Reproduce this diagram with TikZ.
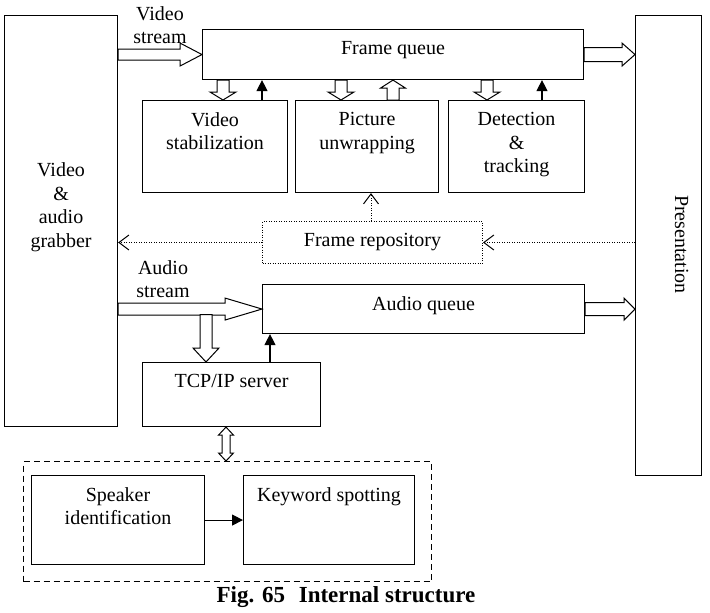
\documentclass[tikz,border=0pt]{standalone}
\usepackage{fontspec}
\setmainfont{Liberation Serif}
\usetikzlibrary{arrows.meta,positioning,calc}

\tikzset{
  box/.style={draw, line width=1.1pt, anchor=north west, inner sep=0pt},
  lbl/.style={anchor=north, align=center, yshift=-9pt},
  hollow/.style={draw, line width=1pt, fill=white, line join=miter},
  solidtip/.style={line width=1.1pt, -{Triangle[length=11pt,width=11pt]}},
  dottip/.style={line width=1pt, dash pattern=on 1pt off 1.5pt, -{Straight Barb[length=10pt,width=15pt]}},
}

% hollow block arrow: from, to, shaft half width, head half width, head length
\newcommand{\hollowarrow}[5]{%
  \path[hollow] let \p1=(#1), \p2=(#2), \n1={veclen(\x2-\x1,\y2-\y1)}, \n2={atan2(\y2-\y1,\x2-\x1)} in
    [shift={(\p1)}, rotate=\n2] (0pt,#3) -- (\n1-#5,#3) -- (\n1-#5,#4) -- (\n1,0pt)
    -- (\n1-#5,-#4) -- (\n1-#5,-#3) -- (0pt,-#3) -- cycle;}
% same with a head at both ends
\newcommand{\hollowboth}[5]{%
  \path[hollow] let \p1=(#1), \p2=(#2), \n1={veclen(\x2-\x1,\y2-\y1)}, \n2={atan2(\y2-\y1,\x2-\x1)} in
    [shift={(\p1)}, rotate=\n2] (0pt,0pt) -- (#5,#4) -- (#5,#3) -- (\n1-#5,#3) -- (\n1-#5,#4) -- (\n1,0pt)
    -- (\n1-#5,-#4) -- (\n1-#5,-#3) -- (#5,-#3) -- (#5,-#4) -- cycle;}

\begin{document}
\begin{tikzpicture}[x=1pt, y=-1pt, font=\fontsize{20}{23.5}\selectfont]
\useasboundingbox (0,0) rectangle (710,613);

% blocks
\node[box, minimum width=113pt, minimum height=411pt,
  label={[align=center, yshift=14pt]center:Video\\\&\\audio\\grabber}] (grabber) at (4,15) {};
\node[box, minimum width=381pt, minimum height=50pt, label={[lbl]north:Frame queue}] (fq) at (202,29) {};
\node[box, minimum width=145pt, minimum height=92pt, label={[lbl]north:Video\\stabilization}] (vs) at (142,100) {};
\node[box, minimum width=143pt, minimum height=92pt, label={[lbl]north:Picture\\unwrapping}] (pu) at (295,100) {};
\node[box, minimum width=136pt, minimum height=92pt, label={[lbl]north:Detection\\\&\\tracking}] (dt) at (448,100) {};
\node[box, minimum width=66pt, minimum height=460pt] (pres) at (635,15) {};
\node[rotate=-90] (prestext) at ([xshift=13pt,yshift=1pt]pres.center) {Presentation};
\node[box, line width=1pt, dash pattern=on 1pt off 1.5pt, minimum width=220pt, minimum height=42pt] (frep) at (262,221) {};
\node (freptext) at (frep.center) {Frame repository};
\node[box, minimum width=322pt, minimum height=49pt, label={[lbl]north:Audio queue}] (aq) at (262,284) {};
\node[box, minimum width=178pt, minimum height=64pt, label={[lbl]north:TCP/IP server}] (tcp) at (142,362) {};
\node[box, line width=1pt, dash pattern=on 6pt off 4pt, minimum width=408pt, minimum height=120pt] (speech) at (23,461) {};
\node[box, minimum width=173pt, minimum height=89pt, label={[lbl]north:Speaker\\identification}] (spk) at (31,475) {};
\node[box, minimum width=171pt, minimum height=89pt, label={[lbl]north:Keyword spotting}] (kw) at (243,475) {};

% stream labels
\node[align=center] (vstream) at (160,25) {Video\\stream};
\node[align=center] (astream) at (163,279) {Audio\\stream};

% block arrows
\hollowarrow{grabber.east |- fq.west}{fq.west}{5.5pt}{11.5pt}{22pt}
\hollowarrow{fq.east}{pres.west |- fq.east}{7pt}{11.5pt}{13pt}
\hollowarrow{fq.south -| 223,0}{vs.north -| 223,0}{6pt}{13pt}{8pt}
\hollowarrow{fq.south -| 341,0}{pu.north -| 341,0}{6pt}{13pt}{8pt}
\hollowarrow{pu.north -| 393,0}{fq.south -| 393,0}{6pt}{12.5pt}{8pt}
\hollowarrow{fq.south -| 487,0}{dt.north -| 487,0}{6pt}{13pt}{8pt}
\hollowarrow{grabber.east |- aq.west}{aq.west}{6pt}{11pt}{37pt}
\hollowarrow{aq.east}{pres.west |- aq.east}{6.5pt}{11pt}{11pt}
\coordinate (tap) at (206,314.5);
\hollowarrow{tap}{tcp.north -| tap}{6pt}{13pt}{14pt}
\hollowboth{tcp.south -| 226,0}{speech.north -| 226,0}{4pt}{7.5pt}{8pt}

% feedback arrows
\draw[solidtip] (vs.north -| 262,0) -- (fq.south -| 262,0);
\draw[solidtip] (dt.north -| 542,0) -- (fq.south -| 542,0);
\draw[solidtip] (tcp.north -| 270,0) -- (aq.south -| 270,0);
\draw[solidtip] (spk.east) -- (kw.west);

% repository links
\draw[dottip] (frep.north -| 371,0) -- (pu.south -| 371,0);
\draw[dottip] (frep.west) -- (grabber.east |- frep.west);
\draw[dottip] (pres.west |- frep.east) -- (frep.east);

% caption
\node[font=\fontsize{23}{27}\selectfont\bfseries] (caption) at (346,597) {Fig. 65\hspace{0.6em}Internal structure};
\end{tikzpicture}
\end{document}
